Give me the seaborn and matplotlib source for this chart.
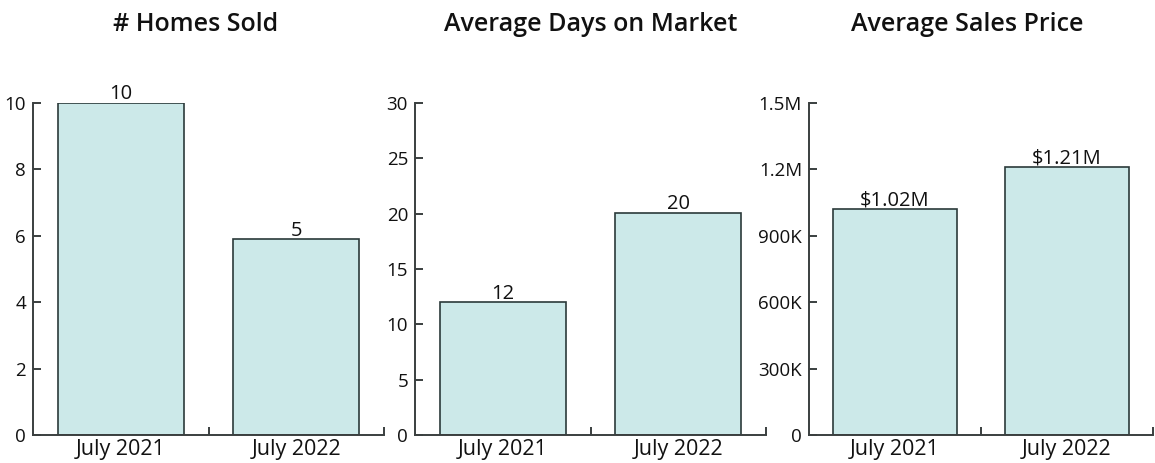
import matplotlib
matplotlib.use("Agg")
import matplotlib.pyplot as plt
import seaborn as sns
import pandas as pd
from matplotlib.ticker import FixedLocator

sns.set_theme(style="white")
plt.rcParams['font.family'] = ['Open Sans', 'DejaVu Sans']

months = ["July 2021", "July 2022"]
homes_sold = [10, 5.89]
homes_labels = ["10", "5"]
days_on_market = [12, 20.1]
days_labels = ["12", "20"]
sales_price = [1019000, 1210000]
price_labels = ["$1.02M", "$1.21M"]

titles = ["# Homes Sold", "Average Days on Market", "Average Sales Price"]
y_ticks = [[0, 2, 4, 6, 8, 10], [0, 5, 10, 15, 20, 25, 30],
           [0, 300000, 600000, 900000, 1200000, 1500000]]
y_ticklabels = [["0", "2", "4", "6", "8", "10"],
                ["0", "5", "10", "15", "20", "25", "30"],
                ["0", "300K", "600K", "900K", "1.2M", "1.5M"]]

BAR = "#cce9e9"
EDGE = "#2b3a3a"
SPINE = "#3a3f3f"

W, H = 1155, 463
fig = plt.figure(figsize=(W / 100, H / 100), dpi=100)
rects = [(33, 351), (415, 351), (809, 344)]
title_x = [0.463, 0.5, 0.46]
series = [homes_sold, days_on_market, sales_price]
labels = [homes_labels, days_labels, price_labels]

for i, (x0, w) in enumerate(rects):
    ax = fig.add_axes([x0 / W, (H - 435) / H, w / W, 332 / H])
    df = pd.DataFrame({"month": months, "value": series[i]})
    sns.barplot(data=df, x="month", y="value", color=BAR, saturation=1,
                edgecolor=EDGE, linewidth=1.2, width=0.72, ax=ax)
    ax.bar_label(ax.containers[0], labels=labels[i], padding=-1,
                 fontsize=14.5, color="#111111")
    ax.set_xlim(-0.5, 1.5)
    ax.set_ylim(0, y_ticks[i][-1])
    ax.set_yticks(y_ticks[i])
    ax.set_yticklabels(y_ticklabels[i])
    ax.set_xlabel("")
    ax.set_ylabel("")
    for s in ["top", "right"]:
        ax.spines[s].set_visible(False)
    for s in ["left", "bottom"]:
        ax.spines[s].set_color(SPINE)
        ax.spines[s].set_linewidth(1.4)
    ax.xaxis.set_minor_locator(FixedLocator([0.5, 1.5]))
    ax.tick_params(axis="x", which="major", length=0, pad=3,
                   labelsize=15.5, labelcolor="#111111")
    ax.tick_params(axis="x", which="minor", length=5.5, width=1.4,
                   color=SPINE, direction="in", bottom=True)
    ax.tick_params(axis="y", which="major", length=5.5, width=1.4,
                   color=SPINE, direction="in", left=True, pad=5,
                   labelsize=13.5, labelcolor="#111111")
    for sp in ax.spines.values():
        sp.set_clip_on(False)
    ax.set_title(titles[i], x=title_x[i], y=1.0, pad=52, fontsize=18,
                 fontweight="semibold", color="#111111")

fig.savefig("out.png", dpi=100)
